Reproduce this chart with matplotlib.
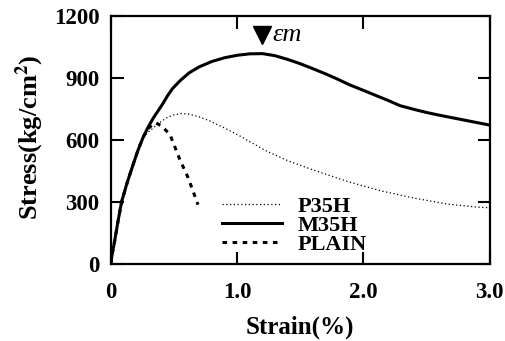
import matplotlib
matplotlib.use("Agg")
import matplotlib.pyplot as plt

m35h_strain = [0, 0.01, 0.03, 0.055, 0.085, 0.13, 0.175, 0.215, 0.255, 0.295,
               0.335, 0.41, 0.45, 0.49, 0.55, 0.62, 0.70, 0.8, 0.9, 1.0,
               1.1, 1.2, 1.3, 1.4, 1.5, 1.6, 1.7, 1.8, 1.89, 2.0,
               2.1, 2.2, 2.29, 2.4, 2.5, 2.6, 2.7, 2.8, 2.9, 3.0]
m35h_stress = [0, 45, 110, 200, 300, 395, 478, 550, 612, 662,
               705, 774, 815, 850, 888, 925, 954, 980, 998, 1010,
               1017, 1018, 1008, 990, 969, 945, 920, 893, 867, 840,
               815, 790, 766, 748, 733, 720, 708, 696, 684, 672]

p35h_strain = [0, 0.01, 0.03, 0.055, 0.085, 0.13, 0.175, 0.215, 0.255, 0.30,
               0.35, 0.40, 0.45, 0.50, 0.56, 0.62, 0.70, 0.78, 0.9, 1.02,
               1.12, 1.23, 1.4, 1.6, 1.87, 2.13, 2.39, 2.66, 2.9, 3.0]
p35h_stress = [0, 45, 110, 200, 300, 395, 478, 550, 612, 640,
               665, 690, 710, 722, 728, 725, 712, 693, 658, 620,
               585, 547, 500, 455, 400, 355, 320, 290, 275, 272]

plain_strain = [0, 0.01, 0.03, 0.055, 0.085, 0.13, 0.175, 0.215, 0.255, 0.295,
                0.335, 0.36, 0.40, 0.467, 0.546, 0.612, 0.69]
plain_stress = [0, 45, 110, 200, 300, 395, 478, 550, 612, 655,
                677, 682, 668, 628, 506, 417, 287]

peak_strain = 1.2
peak_mark = 1110

x_ticks = [0, 1.0, 2.0, 3.0]
x_ticklabels = ["0", "1.0", "2.0", "3.0"]
y_ticks = [0, 300, 600, 900, 1200]

plt.rcParams["font.family"] = ["Liberation Serif", "DejaVu Serif"]
plt.rcParams["font.weight"] = "bold"
plt.rcParams["mathtext.fontset"] = "stix"

fig = plt.figure(figsize=(5.06, 3.41), dpi=100)
ax = fig.add_axes([0.219, 0.226, 0.749, 0.727])

ax.plot(p35h_strain, p35h_stress, color="black", lw=0.9,
        linestyle=(0, (1, 2)), label="P35H")
ax.plot(m35h_strain, m35h_stress, color="black", lw=2.2,
        linestyle="-", label="M35H")
ax.plot(plain_strain, plain_stress, color="black", lw=2.2,
        linestyle=(0, (1.5, 1.8)), label="PLAIN")

# peak strain marker
ax.plot([peak_strain], [peak_mark], marker="v", color="black", ms=13,
        linestyle="none")
ax.text(peak_strain + 0.08, peak_mark, "εm", fontsize=19,
        fontstyle="italic", fontweight="normal", va="center", ha="left")

ax.set_xlim(0, 3.0)
ax.set_ylim(0, 1200)
ax.set_xticks(x_ticks)
ax.set_xticklabels(x_ticklabels)
ax.set_yticks(y_ticks)

ax.tick_params(direction="in", length=9, width=1.5, top=True, right=True,
               labelsize=16.5)
ax.tick_params(axis="x", pad=13)
ax.tick_params(axis="y", pad=8)
for lab in ax.get_xticklabels() + ax.get_yticklabels():
    lab.set_fontweight("bold")
for sp in ax.spines.values():
    sp.set_linewidth(1.6)

ax.set_xlabel("Strain(%)", fontsize=18, fontweight="bold")
ax.set_ylabel(r"Stress(kg/cm$^{\mathbf{2}}$)", fontsize=19, fontweight="bold")
ax.xaxis.set_label_coords(0.5, -0.255)
ax.yaxis.set_label_coords(-0.213, 0.51)
ax.xaxis.label.set_verticalalignment("center")
ax.yaxis.label.set_verticalalignment("center")

leg = ax.legend(loc="lower left", bbox_to_anchor=(0.293, 0.035), frameon=False,
                fontsize=16, handlelength=2.7, handletextpad=0.7,
                labelspacing=-0.06, borderpad=0, borderaxespad=0)
for t in leg.get_texts():
    t.set_fontweight("bold")

fig.savefig("out.png", dpi=100)
